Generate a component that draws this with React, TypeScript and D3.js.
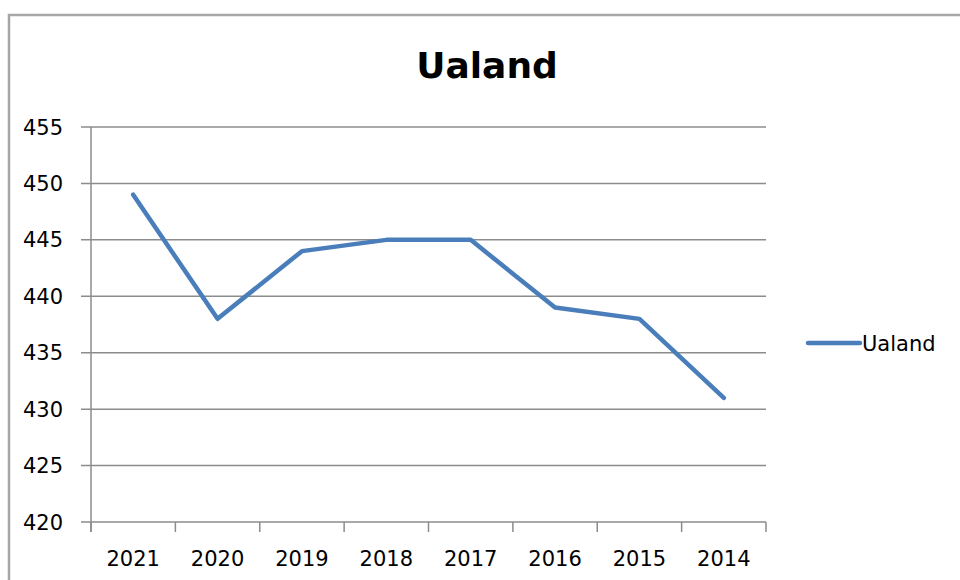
import React from "react";
import * as d3 from "d3";

const categories = ["2021", "2020", "2019", "2018", "2017", "2016", "2015", "2014"];
const values = [449, 438, 444, 445, 445, 439, 438, 431];
const yTicks = [420, 425, 430, 435, 440, 445, 450, 455];
const seriesName = "Ualand";
const title = "Ualand";

export default function App() {
  const W = 960, H = 580;
  const left = 91, right = 766, top = 127, bottom = 522;
  const x = d3.scaleBand<string>().domain(categories).range([left, right]);
  const y = d3.scaleLinear().domain([420, 455]).range([bottom, top]);
  const line = d3.line<number>()
    .x((_, i) => (x(categories[i]) as number) + x.bandwidth() / 2)
    .y((v) => y(v));
  const font = "'DejaVu Sans', Verdana, sans-serif";
  const grid = "#8c8c8c";
  const boundaries = categories.map((c) => x(c) as number).concat([right]);
  return (
    <svg width={W} height={H} style={{ position: "absolute", left: 0, top: 0 }}>
      <rect x={0} y={0} width={W} height={H} fill="#fff" />
      <path d={`M9,${H + 5} V15 H${W + 5}`} fill="none" stroke="#a6a6a6" strokeWidth={2.5} />
      <text x={487} y={78} textAnchor="middle" fontFamily={font} fontWeight="bold" fontSize={36} fill="#000">{title}</text>
      {yTicks.map((t) => (
        <g key={t}>
          <line x1={81} x2={right} y1={y(t)} y2={y(t)} stroke={grid} strokeWidth={1.5} />
          <text x={63} y={y(t)} dy="0.36em" textAnchor="end" fontFamily={font} fontSize={21} fill="#000">{t}</text>
        </g>
      ))}
      <line x1={left} x2={left} y1={top} y2={bottom + 10} stroke={grid} strokeWidth={1.5} />
      {boundaries.map((b, i) => (
        <line key={i} x1={b} x2={b} y1={bottom} y2={bottom + 10} stroke={grid} strokeWidth={1.5} />
      ))}
      {categories.map((c) => (
        <text key={c} x={(x(c) as number) + x.bandwidth() / 2} y={566} textAnchor="middle" fontFamily={font} fontSize={21} fill="#000">{c}</text>
      ))}
      <path d={line(values) || ""} fill="none" stroke="#4a7ebb" strokeWidth={4.5} strokeLinejoin="round" strokeLinecap="round" />
      <line x1={808} x2={860} y1={343} y2={343} stroke="#4a7ebb" strokeWidth={4.5} strokeLinecap="round" />
      <text x={862} y={343} dy="0.36em" fontFamily={font} fontSize={21} fill="#000">{seriesName}</text>
    </svg>
  );
}
